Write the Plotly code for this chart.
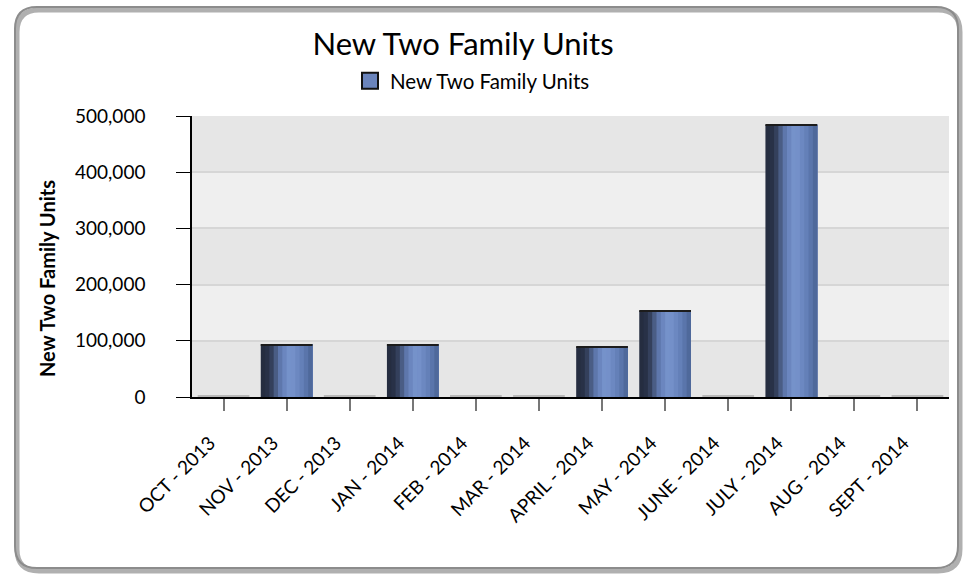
import plotly.graph_objects as go

categories = ["OCT - 2013", "NOV - 2013", "DEC - 2013", "JAN - 2014", "FEB - 2014", "MAR - 2014",
              "APRIL - 2014", "MAY - 2014", "JUNE - 2014", "JULY - 2014", "AUG - 2014", "SEPT - 2014"]
values = [0, 94000, 0, 94000, 0, 0, 89500, 153500, 0, 484500, 0, 0]
y_ticks = [0, 100000, 200000, 300000, 400000, 500000]
y_tick_labels = ["0", "100,000", "200,000", "300,000", "400,000", "500,000"]

series_name = "New Two Family Units"
FONT = "Lato"

W, H = 964, 579
L, R, T, B = 192, 15, 116, 182
pw, ph = W - L - R, H - T - B

def px_x(p):
    return (p - L) / pw

def px_y(p):
    return (H - B - p) / ph

fig = go.Figure()

bar_w = 0.82

grad = ["#252d40", "#283147", "#34405c", "#4a5d85", "#5e77ac", "#6b86bf",
        "#7592ca", "#7490c9", "#6c88c1", "#6480b8", "#5a75ab", "#4f699b"]
n = len(grad)
sw = bar_w / n
for i, c in enumerate(grad):
    fig.add_trace(go.Bar(
        x=categories, y=values, width=bar_w - i * sw, offset=-bar_w / 2 + i * sw,
        marker=dict(color=c, line=dict(width=0)), showlegend=False, hoverinfo="skip",
    ))

# thin dark top edge of each bar
edge = 2200
fig.add_trace(go.Bar(
    x=categories, y=[edge if v > 0 else None for v in values],
    base=[v - edge if v > 0 else None for v in values], width=bar_w,
    marker=dict(color="#1c1c1c", line=dict(width=0)), showlegend=False, hoverinfo="skip",
))

# zero-value bars drawn as thin gray lines
fig.add_trace(go.Bar(
    x=categories, y=[2600 if v == 0 else None for v in values],
    base=[0 if v == 0 else None for v in values], width=bar_w,
    marker=dict(color="#b9b9b9", line=dict(width=0)), showlegend=False, hoverinfo="skip",
))

# legend entry
fig.add_trace(go.Scatter(
    x=[None], y=[None], mode="markers", name=series_name,
    marker=dict(symbol="square", size=20, color="#6a84bc", line=dict(color="#111111", width=2)),
    showlegend=True,
))

shapes = []
for k in range(len(y_ticks) - 1):
    if k % 2 == 1:
        shapes.append(dict(type="rect", xref="paper", yref="y", x0=0, x1=1,
                           y0=y_ticks[k], y1=y_ticks[k + 1],
                           fillcolor="#efefef", line=dict(width=0), layer="below"))

def rrect(xa, ya, xb, yb, r):
    x0, x1 = px_x(xa), px_x(xb)
    y0, y1 = px_y(ya), px_y(yb)
    rx, ry = r / pw, r / ph
    return (f"M {x0+rx},{y0} L {x1-rx},{y0} Q {x1},{y0} {x1},{y0-ry} "
            f"L {x1},{y1+ry} Q {x1},{y1} {x1-rx},{y1} L {x0+rx},{y1} Q {x0},{y1} {x0},{y1+ry} "
            f"L {x0},{y0-ry} Q {x0},{y0} {x0+rx},{y0} Z")

shapes.append(dict(type="path", xref="paper", yref="paper", path=rrect(17, 10, 960, 571, 22),
                   line=dict(color="#b0b0b0", width=5), layer="below"))
shapes.append(dict(type="path", xref="paper", yref="paper", path=rrect(15, 7, 958, 568, 22),
                   line=dict(color="#8c8c8c", width=2), layer="below"))

annotations = [dict(
    text="<b>" + series_name + "</b>", textangle=-90, showarrow=False,
    xref="paper", yref="paper", x=px_x(47), y=px_y(279), xanchor="center", yanchor="middle",
    font=dict(size=20, family=FONT, color="black"),
)]

pad = "\u00a0" * 4
fig.update_layout(
    width=W, height=H,
    margin=dict(l=L, r=R, t=T, b=B, autoexpand=False),
    paper_bgcolor="white",
    plot_bgcolor="#e6e6e6",
    barmode="overlay",
    font=dict(family=FONT, color="black"),
    title=dict(text=series_name, x=463 / W, xanchor="center", y=1 - 44 / H, yanchor="middle",
               font=dict(size=31, family=FONT, color="black")),
    legend=dict(x=px_x(350), xanchor="left", y=px_y(81), yanchor="middle",
                font=dict(size=20.5, family=FONT), bgcolor="rgba(0,0,0,0)", itemsizing="trace"),
    shapes=shapes,
    annotations=annotations,
    showlegend=True,
)

fig.update_xaxes(
    type="category", range=[-0.5, len(categories) - 0.5],
    tickvals=categories, ticktext=[c + pad for c in categories],
    showline=True, linecolor="black", linewidth=1.5,
    ticks="outside", ticklen=12, tickcolor="#777777", tickwidth=1.5,
    tickangle=-45, tickfont=dict(size=19, family=FONT), ticklabelstandoff=0,
    showgrid=False, zeroline=False,
)
fig.update_yaxes(
    range=[0, 500000], tickvals=y_ticks, ticktext=y_tick_labels,
    showline=True, linecolor="black", linewidth=1.5,
    ticks="outside", ticklen=14, tickcolor="black", tickwidth=1,
    ticklabelstandoff=27, tickfont=dict(size=19, family=FONT),
    showgrid=True, gridcolor="#d6d6d6", gridwidth=1.5, zeroline=False,
)

fig.write_html("out.html", post_script="document.body.style.margin='0';",
               config={"displayModeBar": False})
